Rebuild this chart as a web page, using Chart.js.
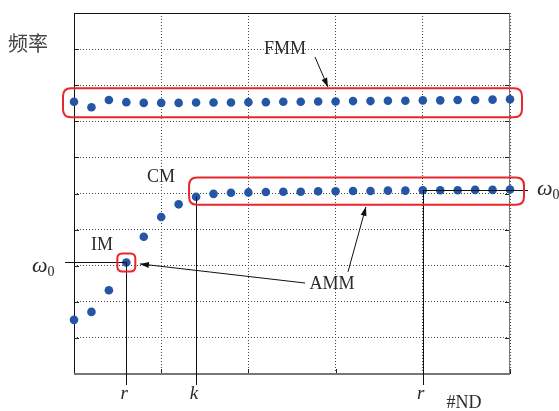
<!DOCTYPE html>
<html><head><meta charset="utf-8">
<script src="https://cdn.jsdelivr.net/npm/chart.js@4"></script>
<style>html,body{margin:0;padding:0;background:#fff}canvas{display:block}</style>
</head><body>
<canvas id="c" width="559" height="411"></canvas>
<script>
// ---- data ----
const nodeIndex = [0,1,2,3,4,5,6,7,8,9,10,11,12,13,14,15,16,17,18,19,20,21,22,23,24,25];
const fmmFreq = [7.54,7.39,7.59,7.53,7.51,7.51,7.51,7.52,7.52,7.52,7.53,7.53,7.54,7.54,7.55,7.55,7.56,7.56,7.57,7.57,7.58,7.58,7.59,7.59,7.60,7.61];
const ammFreq = [1.50,1.72,2.32,3.09,3.80,4.35,4.70,4.91,4.99,5.02,5.03,5.04,5.05,5.05,5.06,5.06,5.07,5.07,5.08,5.08,5.09,5.09,5.09,5.10,5.10,5.11];
const xMin = 0, xMax = 25, xGridStep = 5;
const yMin = 0, yMax = 10, yGridStep = 1;
const markerIdx = [3, 7, 20];
const markerLabels = ['r', 'k', 'r'];
const omegaIdx = [3, 20];
const yAxisTitle = '频率';
const xAxisTitle = '#ND';
// labels: [text, x, y] in data coordinates
const textLabels = [
  ['FMM', 12.1, 9.0],
  ['CM', 4.99, 5.46],
  ['IM', 1.6, 3.57],
  ['AMM', 14.79, 2.49],
];
// arrows: [x1,y1,x2,y2] in data coordinates (tip at x2,y2)
const arrows = [
  [13.82, 8.78, 14.56, 7.95],
  [15.71, 2.83, 16.74, 4.63],
  [13.25, 2.52, 3.78, 3.05],
];

const RED = '#e8262b';
const DOT = '#2456a5';
const TXT = '#2a2a2a';

function line(ctx, x1, y1, x2, y2) { ctx.beginPath(); ctx.moveTo(x1, y1); ctx.lineTo(x2, y2); ctx.stroke(); }
function rrect(ctx, x, y, w, h, r) {
  ctx.beginPath();
  ctx.moveTo(x + r, y); ctx.lineTo(x + w - r, y); ctx.quadraticCurveTo(x + w, y, x + w, y + r);
  ctx.lineTo(x + w, y + h - r); ctx.quadraticCurveTo(x + w, y + h, x + w - r, y + h);
  ctx.lineTo(x + r, y + h); ctx.quadraticCurveTo(x, y + h, x, y + h - r);
  ctx.lineTo(x, y + r); ctx.quadraticCurveTo(x, y, x + r, y);
  ctx.closePath(); ctx.stroke();
}
function arrow(ctx, x1, y1, x2, y2) {
  line(ctx, x1, y1, x2, y2);
  const a = Math.atan2(y2 - y1, x2 - x1), L = 9, W = 3;
  ctx.beginPath();
  ctx.moveTo(x2, y2);
  ctx.lineTo(x2 - L * Math.cos(a) + W * Math.sin(a), y2 - L * Math.sin(a) - W * Math.cos(a));
  ctx.lineTo(x2 - L * Math.cos(a) - W * Math.sin(a), y2 - L * Math.sin(a) + W * Math.cos(a));
  ctx.closePath(); ctx.fill();
}
function omega(ctx, px, py) {
  ctx.textAlign = 'left'; ctx.textBaseline = 'middle';
  ctx.font = 'italic 22px "Liberation Serif"';
  ctx.fillText('ω', px, py);
  const w = ctx.measureText('ω').width;
  ctx.font = '14px "Liberation Serif"';
  ctx.fillText('0', px + w, py + 6);
}

const annot = {
  id: 'annot',
  beforeDatasetsDraw(chart) {
    const { ctx, chartArea: a, scales: { x, y } } = chart;
    ctx.save();
    ctx.strokeStyle = '#222'; ctx.lineWidth = 1;
    for (let v = yMin; v <= yMax; v += yGridStep) {
      const py = Math.round(y.getPixelForValue(v)) + 0.5;
      line(ctx, a.left, py, a.left + 5, py);
      line(ctx, a.right - 5, py, a.right, py);
    }
    for (let v = xMin; v <= xMax; v += xGridStep) {
      const px = Math.round(x.getPixelForValue(v)) + 0.5;
      line(ctx, px, a.bottom - 5, px, a.bottom);
    }
    // frame
    ctx.strokeStyle = '#111'; ctx.lineWidth = 1;
    line(ctx, a.left + 0.5, a.top, a.left + 0.5, a.bottom);
    line(ctx, a.left, a.top + 0.5, a.right, a.top + 0.5);
    ctx.strokeStyle = '#777';
    line(ctx, a.right - 0.5, a.top, a.right - 0.5, a.bottom);
    ctx.lineWidth = 2;
    line(ctx, a.left, a.bottom, a.right, a.bottom);
    ctx.restore();
  },
  afterDatasetsDraw(chart) {
    const { ctx, chartArea: a, scales: { x, y } } = chart;
    const X = v => x.getPixelForValue(v), Y = v => y.getPixelForValue(v);
    ctx.save();
    // marker vertical lines
    ctx.strokeStyle = '#111'; ctx.lineWidth = 1;
    markerIdx.forEach((i, k) => {
      const px = Math.round(X(nodeIndex[i])) + 0.5;
      line(ctx, px, Y(ammFreq[i]), px, a.bottom + 11);
    });
    // omega lines
    const o1 = omegaIdx[0], o2 = omegaIdx[1];
    line(ctx, a.left - 9, Math.round(Y(ammFreq[o1])) + 0.5, X(nodeIndex[o1]), Math.round(Y(ammFreq[o1])) + 0.5);
    line(ctx, X(nodeIndex[o2]), Math.round(Y(ammFreq[o2])) + 0.5, a.right + 18, Math.round(Y(ammFreq[o2])) + 0.5);
    // red boxes
    ctx.strokeStyle = RED; ctx.lineWidth = 2;
    const boxAround = (arr, i0, i1, pl, pr, pt, pb, r) => {
      let ys = arr.slice(i0, i1 + 1).map(Y);
      const l = X(nodeIndex[i0]) - pl, rr = X(nodeIndex[i1]) + pr;
      const t = Math.min(...ys) - pt, b = Math.max(...ys) + pb;
      rrect(ctx, l, t, rr - l, b - t, r);
    };
    boxAround(fmmFreq, 0, 25, 11, 12, 11, 10, 8);
    boxAround(ammFreq, 7, 25, 7, 14, 12, 8, 8);
    boxAround(ammFreq, 3, 3, 9, 9, 9, 9, 5);
    // arrows
    ctx.strokeStyle = '#111'; ctx.fillStyle = '#111'; ctx.lineWidth = 1;
    arrows.forEach(([x1, y1, x2, y2]) => arrow(ctx, X(x1), Y(y1), X(x2), Y(y2)));
    // text labels
    ctx.fillStyle = TXT;
    ctx.font = '18px "Liberation Serif"'; ctx.textAlign = 'center'; ctx.textBaseline = 'middle';
    textLabels.forEach(([t, vx, vy]) => ctx.fillText(t, X(vx), Y(vy)));
    ctx.fillText(xAxisTitle, X(22.36), a.bottom + 29);
    ctx.font = 'italic 19px "Liberation Serif"';
    markerIdx.forEach((i, k) => ctx.fillText(markerLabels[k], X(nodeIndex[i]) - 2, a.bottom + 20));
    omega(ctx, a.left - 42, Y(ammFreq[o1]) + 4);
    omega(ctx, a.right + 27, Y(ammFreq[o2]) - 1);
    ctx.font = '20px "Noto Sans CJK SC"'; ctx.textAlign = 'left'; ctx.fillStyle = '#444';
    ctx.fillText(yAxisTitle, 8, a.top + 30);
    ctx.restore();
  }
};

new Chart(document.getElementById('c'), {
  type: 'scatter',
  data: {
    datasets: [
      { label: 'FMM', data: nodeIndex.map((v, i) => ({ x: v, y: fmmFreq[i] })), backgroundColor: DOT, borderColor: DOT, pointRadius: 4.3, borderWidth: 0, clip: false },
      { label: 'AMM', data: nodeIndex.map((v, i) => ({ x: v, y: ammFreq[i] })), backgroundColor: DOT, borderColor: DOT, pointRadius: 4.3, borderWidth: 0, clip: false },
    ]
  },
  options: {
    responsive: false, animation: false, devicePixelRatio: 1,
    layout: { padding: { left: 74, right: 49, top: 13, bottom: 37 } },
    plugins: { legend: { display: false }, tooltip: { enabled: false } },
    scales: {
      x: { type: 'linear', min: xMin, max: xMax,
        ticks: { display: false, stepSize: xGridStep },
        grid: { drawTicks: false, color: '#444', lineWidth: 1 },
        border: { display: false, dash: [1, 2] },
        afterFit: s => { s.height = 0; } },
      y: { type: 'linear', min: yMin, max: yMax,
        ticks: { display: false, stepSize: yGridStep },
        grid: { drawTicks: false, color: '#444', lineWidth: 1 },
        border: { display: false, dash: [1, 2] },
        afterFit: s => { s.width = 0; } }
    }
  },
  plugins: [annot]
});
</script>
</body></html>
